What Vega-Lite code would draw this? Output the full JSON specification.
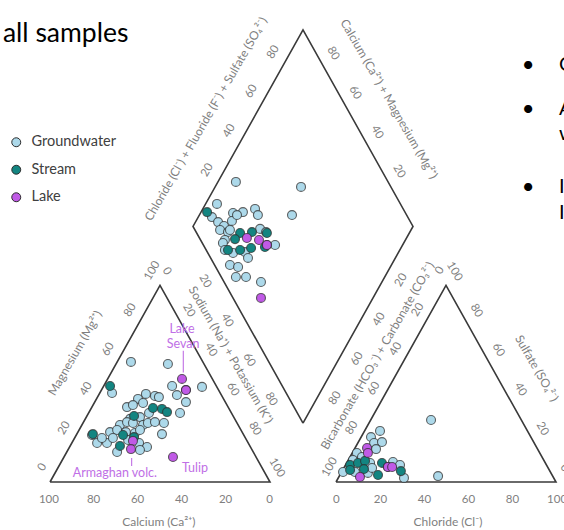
{
  "$schema": "https://vega.github.io/schema/vega-lite/v6.json",
  "width": 564,
  "height": 530,
  "padding": 0,
  "autosize": {"type": "none"},
  "config": {"view": {"stroke": null}, "font": "Lato"},
  "datasets": {
    "frame": [
      {"shape": "cation", "k": 0, "x": 0, "y": 0},
      {"shape": "cation", "k": 1, "x": 100, "y": 0},
      {"shape": "cation", "k": 2, "x": 50, "y": 86.6},
      {"shape": "cation", "k": 3, "x": 0, "y": 0},
      {"shape": "anion", "k": 0, "x": 130, "y": 0},
      {"shape": "anion", "k": 1, "x": 230, "y": 0},
      {"shape": "anion", "k": 2, "x": 180, "y": 86.6},
      {"shape": "anion", "k": 3, "x": 130, "y": 0},
      {"shape": "diamond", "k": 0, "x": 115, "y": 25.98},
      {"shape": "diamond", "k": 1, "x": 165, "y": 112.58},
      {"shape": "diamond", "k": 2, "x": 115, "y": 199.19},
      {"shape": "diamond", "k": 3, "x": 65, "y": 112.58},
      {"shape": "diamond", "k": 4, "x": 115, "y": 25.98}
    ],
    "ticksUp": [
      {"label": "0", "x": -3.4, "y": 6.4}, {"label": "20", "x": 6.6, "y": 23.7}, {"label": "40", "x": 16.6, "y": 41.0},
      {"label": "60", "x": 26.6, "y": 58.4}, {"label": "80", "x": 36.6, "y": 75.7}, {"label": "100", "x": 46.6, "y": 93.0},
      {"label": "0", "x": 177.3, "y": 93.1}, {"label": "20", "x": 167.3, "y": 75.8}, {"label": "40", "x": 157.3, "y": 58.5},
      {"label": "60", "x": 147.3, "y": 41.1}, {"label": "80", "x": 137.3, "y": 23.8}, {"label": "100", "x": 127.3, "y": 6.5},
      {"label": "20", "x": 71.6, "y": 137.3}, {"label": "40", "x": 81.6, "y": 154.6}, {"label": "60", "x": 91.6, "y": 172.0}, {"label": "80", "x": 101.6, "y": 189.3},
      {"label": "20", "x": 159.7, "y": 88.9}, {"label": "40", "x": 149.7, "y": 71.6}, {"label": "60", "x": 139.7, "y": 54.2}, {"label": "80", "x": 129.7, "y": 36.9}
    ],
    "ticksDown": [
      {"label": "0", "x": 53, "y": 92.8}, {"label": "20", "x": 63, "y": 75.5}, {"label": "40", "x": 73, "y": 58.2},
      {"label": "60", "x": 83, "y": 40.8}, {"label": "80", "x": 93, "y": 23.5}, {"label": "100", "x": 103, "y": 6.2},
      {"label": "100", "x": 183.7, "y": 92.7}, {"label": "80", "x": 193.7, "y": 75.4}, {"label": "60", "x": 203.7, "y": 58.1},
      {"label": "40", "x": 213.7, "y": 40.7}, {"label": "20", "x": 223.7, "y": 23.4}, {"label": "0", "x": 233.7, "y": 6.1},
      {"label": "80", "x": 128.6, "y": 188.8}, {"label": "60", "x": 138.6, "y": 171.5}, {"label": "40", "x": 148.6, "y": 154.1}, {"label": "20", "x": 158.6, "y": 136.8},
      {"label": "20", "x": 70.4, "y": 88.4}, {"label": "40", "x": 80.4, "y": 71.1}, {"label": "60", "x": 90.4, "y": 53.7}, {"label": "80", "x": 100.4, "y": 36.4}
    ],
    "ticksFlat": [
      {"label": "100", "x": -0.5, "y": -7.9}, {"label": "80", "x": 19.8, "y": -7.9}, {"label": "60", "x": 39.8, "y": -7.9},
      {"label": "40", "x": 59.8, "y": -7.9}, {"label": "20", "x": 79.8, "y": -7.9}, {"label": "0", "x": 99.8, "y": -7.9},
      {"label": "0", "x": 130.2, "y": -7.9}, {"label": "20", "x": 150.2, "y": -7.9}, {"label": "40", "x": 170.2, "y": -7.9},
      {"label": "60", "x": 190.2, "y": -7.9}, {"label": "80", "x": 210.2, "y": -7.9}, {"label": "100", "x": 230.5, "y": -7.9}
    ],
    "titlesUp": [
      {"label": "Magnesium (Mg²⁺)", "x": 11.4, "y": 56.8},
      {"label": "Bicarbonate (HCO₃⁻) + Carbonate (CO₃²⁻)", "x": 148.9, "y": 55.6},
      {"label": "Chloride (Cl⁻) + Fluoride (F⁻) + Sulfate (SO₄²⁻)", "x": 70.9, "y": 159.9}
    ],
    "titlesDown": [
      {"label": "Sodium (Na⁺) + Potassium (K⁺)", "x": 82.2, "y": 56.0},
      {"label": "Sulfate (SO₄²⁻)", "x": 221.2, "y": 50.1},
      {"label": "Calcium (Ca²⁺) + Magnesium (Mg²⁺)", "x": 154.1, "y": 168.7}
    ],
    "titlesFlat": [
      {"label": "Calcium (Ca²⁺)", "x": 49.5, "y": -17.6},
      {"label": "Chloride (Cl⁻)", "x": 180.9, "y": -17.6}
    ],
    "notes": [
      {"label": "Lake", "x": 60.0, "y": 67.6},
      {"label": "Sevan", "x": 60.5, "y": 60.7},
      {"label": "Armaghan volc.", "x": 29.5, "y": 4.0},
      {"label": "Tulip", "x": 65.9, "y": 6.2}
    ],
    "leaders": [
      {"x": 60.6, "y": 57.8, "x2": 60.6, "y2": 48.2},
      {"x": 37.1, "y": 10.6, "x2": 37.1, "y2": 7.0}
    ],
    "slide": [
      {"label": "•", "x": 217.3, "y": 183.7},
      {"label": "•", "x": 217.3, "y": 164.3},
      {"label": "•", "x": 217.3, "y": 130.0}
    ],
    "slideText": [
      {"label": "C", "x": 231.4, "y": 183.7},
      {"label": "A", "x": 231.4, "y": 164.3},
      {"label": "w", "x": 231.4, "y": 153.3},
      {"label": "I", "x": 231.4, "y": 130.0},
      {"label": "I", "x": 231.4, "y": 118.7}
    ],
    "samples": [
      {"type": "Groundwater", "diagram": "cation", "x": 36.8, "y": 52.9},
      {"type": "Groundwater", "diagram": "cation", "x": 53.6, "y": 52.0},
      {"type": "Groundwater", "diagram": "cation", "x": 28.2, "y": 39.2},
      {"type": "Groundwater", "diagram": "cation", "x": 55.5, "y": 42.3},
      {"type": "Groundwater", "diagram": "cation", "x": 69.1, "y": 41.9},
      {"type": "Groundwater", "diagram": "cation", "x": 57.7, "y": 38.3},
      {"type": "Groundwater", "diagram": "cation", "x": 61.8, "y": 35.2},
      {"type": "Groundwater", "diagram": "cation", "x": 59.1, "y": 30.4},
      {"type": "Groundwater", "diagram": "cation", "x": 50.9, "y": 21.1},
      {"type": "Groundwater", "diagram": "cation", "x": 43.6, "y": 38.8},
      {"type": "Groundwater", "diagram": "cation", "x": 47.7, "y": 37.9},
      {"type": "Groundwater", "diagram": "cation", "x": 49.5, "y": 37.4},
      {"type": "Groundwater", "diagram": "cation", "x": 40.0, "y": 36.6},
      {"type": "Groundwater", "diagram": "cation", "x": 35.0, "y": 33.0},
      {"type": "Groundwater", "diagram": "cation", "x": 37.7, "y": 33.9},
      {"type": "Groundwater", "diagram": "cation", "x": 42.3, "y": 34.8},
      {"type": "Groundwater", "diagram": "cation", "x": 45.0, "y": 30.4},
      {"type": "Groundwater", "diagram": "cation", "x": 40.9, "y": 28.6},
      {"type": "Groundwater", "diagram": "cation", "x": 36.4, "y": 27.8},
      {"type": "Groundwater", "diagram": "cation", "x": 31.8, "y": 25.1},
      {"type": "Groundwater", "diagram": "cation", "x": 35.0, "y": 26.4},
      {"type": "Groundwater", "diagram": "cation", "x": 37.7, "y": 26.0},
      {"type": "Groundwater", "diagram": "cation", "x": 42.3, "y": 25.1},
      {"type": "Groundwater", "diagram": "cation", "x": 44.5, "y": 26.0},
      {"type": "Groundwater", "diagram": "cation", "x": 47.7, "y": 26.4},
      {"type": "Groundwater", "diagram": "cation", "x": 51.8, "y": 26.0},
      {"type": "Groundwater", "diagram": "cation", "x": 27.3, "y": 22.0},
      {"type": "Groundwater", "diagram": "cation", "x": 30.5, "y": 22.9},
      {"type": "Groundwater", "diagram": "cation", "x": 34.5, "y": 22.0},
      {"type": "Groundwater", "diagram": "cation", "x": 38.6, "y": 21.6},
      {"type": "Groundwater", "diagram": "cation", "x": 40.9, "y": 22.9},
      {"type": "Groundwater", "diagram": "cation", "x": 19.1, "y": 20.7},
      {"type": "Groundwater", "diagram": "cation", "x": 21.4, "y": 17.2},
      {"type": "Groundwater", "diagram": "cation", "x": 25.9, "y": 17.2},
      {"type": "Groundwater", "diagram": "cation", "x": 28.6, "y": 19.4},
      {"type": "Groundwater", "diagram": "cation", "x": 35.5, "y": 18.5},
      {"type": "Groundwater", "diagram": "cation", "x": 40.5, "y": 17.2},
      {"type": "Groundwater", "diagram": "cation", "x": 44.1, "y": 15.4},
      {"type": "Groundwater", "diagram": "cation", "x": 30.5, "y": 13.2},
      {"type": "Groundwater", "diagram": "cation", "x": 40.9, "y": 14.1},
      {"type": "Groundwater", "diagram": "cation", "x": 23.6, "y": 19.4},
      {"type": "Groundwater", "diagram": "diamond", "x": 84.5, "y": 132.2},
      {"type": "Groundwater", "diagram": "diamond", "x": 114.1, "y": 130.0},
      {"type": "Groundwater", "diagram": "diamond", "x": 110.0, "y": 117.6},
      {"type": "Groundwater", "diagram": "diamond", "x": 75.9, "y": 122.5},
      {"type": "Groundwater", "diagram": "diamond", "x": 73.6, "y": 116.7},
      {"type": "Groundwater", "diagram": "diamond", "x": 76.4, "y": 114.5},
      {"type": "Groundwater", "diagram": "diamond", "x": 79.1, "y": 112.8},
      {"type": "Groundwater", "diagram": "diamond", "x": 83.2, "y": 118.5},
      {"type": "Groundwater", "diagram": "diamond", "x": 87.7, "y": 118.9},
      {"type": "Groundwater", "diagram": "diamond", "x": 93.2, "y": 120.3},
      {"type": "Groundwater", "diagram": "diamond", "x": 94.5, "y": 117.6},
      {"type": "Groundwater", "diagram": "diamond", "x": 82.7, "y": 115.0},
      {"type": "Groundwater", "diagram": "diamond", "x": 77.3, "y": 111.0},
      {"type": "Groundwater", "diagram": "diamond", "x": 80.9, "y": 110.1},
      {"type": "Groundwater", "diagram": "diamond", "x": 79.5, "y": 106.6},
      {"type": "Groundwater", "diagram": "diamond", "x": 95.5, "y": 111.5},
      {"type": "Groundwater", "diagram": "diamond", "x": 98.2, "y": 110.1},
      {"type": "Groundwater", "diagram": "diamond", "x": 102.3, "y": 104.4},
      {"type": "Groundwater", "diagram": "diamond", "x": 78.6, "y": 105.3},
      {"type": "Groundwater", "diagram": "diamond", "x": 79.5, "y": 102.2},
      {"type": "Groundwater", "diagram": "diamond", "x": 83.2, "y": 100.9},
      {"type": "Groundwater", "diagram": "diamond", "x": 88.6, "y": 101.3},
      {"type": "Groundwater", "diagram": "diamond", "x": 90.0, "y": 98.7},
      {"type": "Groundwater", "diagram": "diamond", "x": 81.8, "y": 95.6},
      {"type": "Groundwater", "diagram": "diamond", "x": 85.5, "y": 94.7},
      {"type": "Groundwater", "diagram": "diamond", "x": 84.5, "y": 90.3},
      {"type": "Groundwater", "diagram": "diamond", "x": 89.1, "y": 90.3},
      {"type": "Groundwater", "diagram": "diamond", "x": 95.9, "y": 88.1},
      {"type": "Groundwater", "diagram": "diamond", "x": 85.0, "y": 117.6},
      {"type": "Groundwater", "diagram": "diamond", "x": 81.8, "y": 111.0},
      {"type": "Groundwater", "diagram": "anion", "x": 173.2, "y": 27.3},
      {"type": "Groundwater", "diagram": "anion", "x": 176.4, "y": 2.6},
      {"type": "Groundwater", "diagram": "anion", "x": 150.0, "y": 22.5},
      {"type": "Groundwater", "diagram": "anion", "x": 145.9, "y": 19.8},
      {"type": "Groundwater", "diagram": "anion", "x": 147.3, "y": 17.2},
      {"type": "Groundwater", "diagram": "anion", "x": 150.9, "y": 17.6},
      {"type": "Groundwater", "diagram": "anion", "x": 139.5, "y": 12.8},
      {"type": "Groundwater", "diagram": "anion", "x": 137.7, "y": 9.7},
      {"type": "Groundwater", "diagram": "anion", "x": 141.8, "y": 11.0},
      {"type": "Groundwater", "diagram": "anion", "x": 145.5, "y": 8.4},
      {"type": "Groundwater", "diagram": "anion", "x": 155.9, "y": 8.8},
      {"type": "Groundwater", "diagram": "anion", "x": 159.1, "y": 7.5},
      {"type": "Groundwater", "diagram": "anion", "x": 160.9, "y": 1.8},
      {"type": "Groundwater", "diagram": "anion", "x": 133.2, "y": 4.4},
      {"type": "Groundwater", "diagram": "anion", "x": 144.5, "y": 4.0},
      {"type": "Groundwater", "diagram": "anion", "x": 138.6, "y": 4.4},
      {"type": "Groundwater", "diagram": "anion", "x": 146.4, "y": 6.2},
      {"type": "Groundwater", "diagram": "anion", "x": 148.2, "y": 14.5},
      {"type": "Stream", "diagram": "cation", "x": 27.3, "y": 42.3},
      {"type": "Stream", "diagram": "cation", "x": 38.2, "y": 29.1},
      {"type": "Stream", "diagram": "cation", "x": 46.8, "y": 32.6},
      {"type": "Stream", "diagram": "cation", "x": 50.9, "y": 32.2},
      {"type": "Stream", "diagram": "cation", "x": 53.2, "y": 30.8},
      {"type": "Stream", "diagram": "cation", "x": 33.2, "y": 20.7},
      {"type": "Stream", "diagram": "cation", "x": 31.8, "y": 15.9},
      {"type": "Stream", "diagram": "cation", "x": 38.2, "y": 19.8},
      {"type": "Stream", "diagram": "cation", "x": 19.5, "y": 21.1},
      {"type": "Stream", "diagram": "diamond", "x": 71.4, "y": 118.9},
      {"type": "Stream", "diagram": "diamond", "x": 86.4, "y": 109.7},
      {"type": "Stream", "diagram": "diamond", "x": 91.8, "y": 110.1},
      {"type": "Stream", "diagram": "diamond", "x": 98.6, "y": 109.7},
      {"type": "Stream", "diagram": "diamond", "x": 84.1, "y": 107.0},
      {"type": "Stream", "diagram": "diamond", "x": 80.9, "y": 102.2},
      {"type": "Stream", "diagram": "diamond", "x": 86.4, "y": 102.2},
      {"type": "Stream", "diagram": "diamond", "x": 91.4, "y": 103.1},
      {"type": "Stream", "diagram": "diamond", "x": 97.7, "y": 103.5},
      {"type": "Stream", "diagram": "anion", "x": 136.4, "y": 7.5},
      {"type": "Stream", "diagram": "anion", "x": 140.0, "y": 8.4},
      {"type": "Stream", "diagram": "anion", "x": 143.2, "y": 9.3},
      {"type": "Stream", "diagram": "anion", "x": 150.9, "y": 8.4},
      {"type": "Stream", "diagram": "anion", "x": 159.5, "y": 4.8},
      {"type": "Stream", "diagram": "anion", "x": 149.1, "y": 3.1},
      {"type": "Stream", "diagram": "anion", "x": 136.4, "y": 5.3},
      {"type": "Stream", "diagram": "anion", "x": 142.7, "y": 5.7},
      {"type": "Lake", "diagram": "cation", "x": 60.0, "y": 45.4},
      {"type": "Lake", "diagram": "cation", "x": 61.8, "y": 40.5},
      {"type": "Lake", "diagram": "cation", "x": 61.8, "y": 40.5},
      {"type": "Lake", "diagram": "cation", "x": 37.7, "y": 18.1},
      {"type": "Lake", "diagram": "cation", "x": 36.8, "y": 14.5},
      {"type": "Lake", "diagram": "cation", "x": 55.9, "y": 11.0},
      {"type": "Lake", "diagram": "diamond", "x": 89.5, "y": 107.5},
      {"type": "Lake", "diagram": "diamond", "x": 95.0, "y": 106.6},
      {"type": "Lake", "diagram": "diamond", "x": 98.6, "y": 104.4},
      {"type": "Lake", "diagram": "diamond", "x": 98.6, "y": 104.4},
      {"type": "Lake", "diagram": "diamond", "x": 95.9, "y": 81.1},
      {"type": "Lake", "diagram": "anion", "x": 144.1, "y": 15.0},
      {"type": "Lake", "diagram": "anion", "x": 144.5, "y": 12.8},
      {"type": "Lake", "diagram": "anion", "x": 153.6, "y": 6.6},
      {"type": "Lake", "diagram": "anion", "x": 153.6, "y": 6.6},
      {"type": "Lake", "diagram": "anion", "x": 155.5, "y": 6.6},
      {"type": "Lake", "diagram": "anion", "x": 140.9, "y": 2.2}
    ]
  },
  "encoding": {
    "x": {"field": "x", "type": "quantitative", "scale": {"domain": [-22.727, 233.636], "nice": false, "zero": false}, "axis": null},
    "y": {"field": "y", "type": "quantitative", "scale": {"domain": [-21.145, 212.335], "nice": false, "zero": false}, "axis": null}
  },
  "layer": [
    {
      "data": {"name": "frame"},
      "mark": {"type": "line", "color": "#3a3a3a", "strokeWidth": 1.6, "strokeJoin": "miter"},
      "encoding": {"detail": {"field": "shape"}, "order": {"field": "k", "type": "quantitative"}}
    },
    {
      "data": {"name": "ticksUp"},
      "mark": {"type": "text", "angle": -60, "fontSize": 11.5, "color": "#7f7f7f", "align": "center", "baseline": "middle"},
      "encoding": {"text": {"field": "label"}}
    },
    {
      "data": {"name": "ticksDown"},
      "mark": {"type": "text", "angle": 60, "fontSize": 11.5, "color": "#7f7f7f", "align": "center", "baseline": "middle"},
      "encoding": {"text": {"field": "label"}}
    },
    {
      "data": {"name": "ticksFlat"},
      "mark": {"type": "text", "fontSize": 11.5, "color": "#7f7f7f", "align": "center", "baseline": "middle"},
      "encoding": {"text": {"field": "label"}}
    },
    {
      "data": {"name": "titlesUp"},
      "mark": {"type": "text", "angle": -60, "fontSize": 12, "color": "#7f7f7f", "align": "center", "baseline": "middle"},
      "encoding": {"text": {"field": "label"}}
    },
    {
      "data": {"name": "titlesDown"},
      "mark": {"type": "text", "angle": 60, "fontSize": 12, "color": "#7f7f7f", "align": "center", "baseline": "middle"},
      "encoding": {"text": {"field": "label"}}
    },
    {
      "data": {"name": "titlesFlat"},
      "mark": {"type": "text", "fontSize": 12, "color": "#7f7f7f", "align": "center", "baseline": "middle"},
      "encoding": {"text": {"field": "label"}}
    },
    {
      "data": {"name": "leaders"},
      "mark": {"type": "rule", "color": "#c57be6", "strokeWidth": 1.2},
      "encoding": {"x2": {"field": "x2"}, "y2": {"field": "y2"}}
    },
    {
      "data": {"name": "notes"},
      "mark": {"type": "text", "fontSize": 12.5, "color": "#c06fe6", "align": "center", "baseline": "middle"},
      "encoding": {"text": {"field": "label"}}
    },
    {
      "data": {"name": "samples"},
      "mark": {"type": "point", "shape": "circle", "filled": true, "size": 80, "stroke": "#2e2e2e", "strokeWidth": 1.1, "strokeOpacity": 0.75, "opacity": 1},
      "encoding": {
        "color": {
          "field": "type",
          "type": "nominal",
          "scale": {"domain": ["Groundwater", "Stream", "Lake"], "range": ["#add9ea", "#138581", "#c05ae6"]},
          "legend": {
            "title": null,
            "orient": "none",
            "legendX": 9,
            "legendY": 135,
            "symbolType": "circle",
            "symbolSize": 80,
            "symbolStrokeColor": "#2e2e2e",
            "symbolStrokeWidth": 1,
            "labelFont": "Lato",
            "labelFontSize": 14.5,
            "labelColor": "#404040",
            "labelOffset": 8,
            "rowPadding": 12.5
          }
        }
      }
    },
    {
      "data": {"values": [{"label": "all samples", "x": -21.4, "y": 194.0}]},
      "mark": {"type": "text", "fontSize": 26.5, "color": "#000000", "align": "left", "baseline": "alphabetic"},
      "encoding": {"text": {"field": "label"}}
    },
    {
      "data": {"name": "slide"},
      "mark": {"type": "text", "fontSize": 22, "color": "#000000", "align": "center", "baseline": "middle"},
      "encoding": {"text": {"field": "label"}}
    },
    {
      "data": {"name": "slideText"},
      "mark": {"type": "text", "fontSize": 20, "color": "#000000", "align": "left", "baseline": "middle"},
      "encoding": {"text": {"field": "label"}}
    }
  ]
}
